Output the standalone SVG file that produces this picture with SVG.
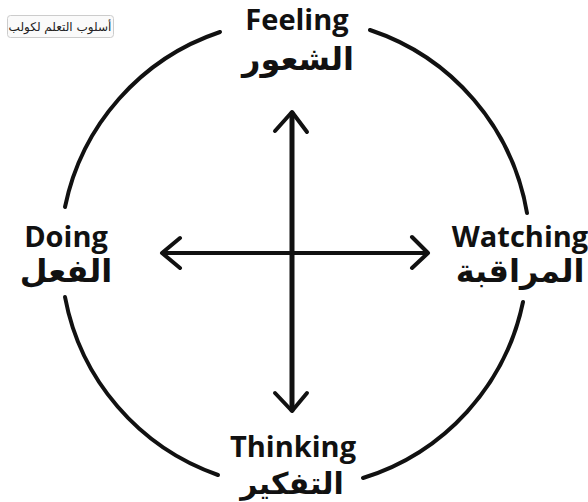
<svg xmlns="http://www.w3.org/2000/svg" width="588" height="502" viewBox="0 0 588 502">
<style>
.arc{fill:none;stroke:#111;stroke-width:4;stroke-linecap:round}
.ax{fill:none;stroke:#111;stroke-linecap:round;stroke-linejoin:round}
.en{font-family:"Open Sans","Liberation Sans",sans-serif;font-weight:bold;font-size:29px;fill:#111;text-anchor:middle}
.ar{font-family:"DejaVu Sans",sans-serif;font-weight:bold;font-size:32px;fill:#111;text-anchor:middle}
.cap{font-family:"DejaVu Sans",sans-serif;font-size:12px;fill:#222;text-anchor:middle}
</style>
<rect width="588" height="502" fill="#fff"/>
<g id="circle">
<path class="arc" d="M65,207 A234,234 0 0 1 220,32"/>
<path class="arc" d="M370,30 A234,234 0 0 1 527,213"/>
<path class="arc" d="M523,302 A234,234 0 0 1 363,478"/>
<path class="arc" d="M218,475 A234,234 0 0 1 65,297"/>
</g>
<g id="connectors">
<path class="ax" stroke-width="5" d="M292,113 V410"/>
<path class="ax" stroke-width="4" d="M275,131 L292,112 L307,132"/>
<path class="ax" stroke-width="4" d="M275,393 L292,411 L307,393"/>
<path class="ax" stroke-width="4" d="M163,253 H427"/>
<path class="ax" stroke-width="4" d="M180,238 L162,253 L180,268"/>
<path class="ax" stroke-width="4" d="M412,237 L428,253 L412,268"/>
</g>
<g id="feeling">
<text class="en" x="297" y="30">Feeling</text>
<text class="ar" x="298" y="70">الشعور</text>
</g>
<g id="doing">
<text class="en" x="66" y="247">Doing</text>
<text class="ar" x="66" y="282">الفعل</text>
</g>
<g id="watching">
<text class="en" x="520" y="247">Watching</text>
<text class="ar" x="520" y="282">المراقبة</text>
</g>
<g id="thinking">
<text class="en" x="293" y="457">Thinking</text>
<text class="ar" x="292" y="494" style="font-size:30px">التفكير</text>
</g>
<g id="caption">
<rect x="7.5" y="15.5" width="106" height="22" rx="3" fill="#fafafa" stroke="#ccc"/>
<text class="cap" x="60" y="31">أسلوب التعلم لكولب</text>
</g>
</svg>
